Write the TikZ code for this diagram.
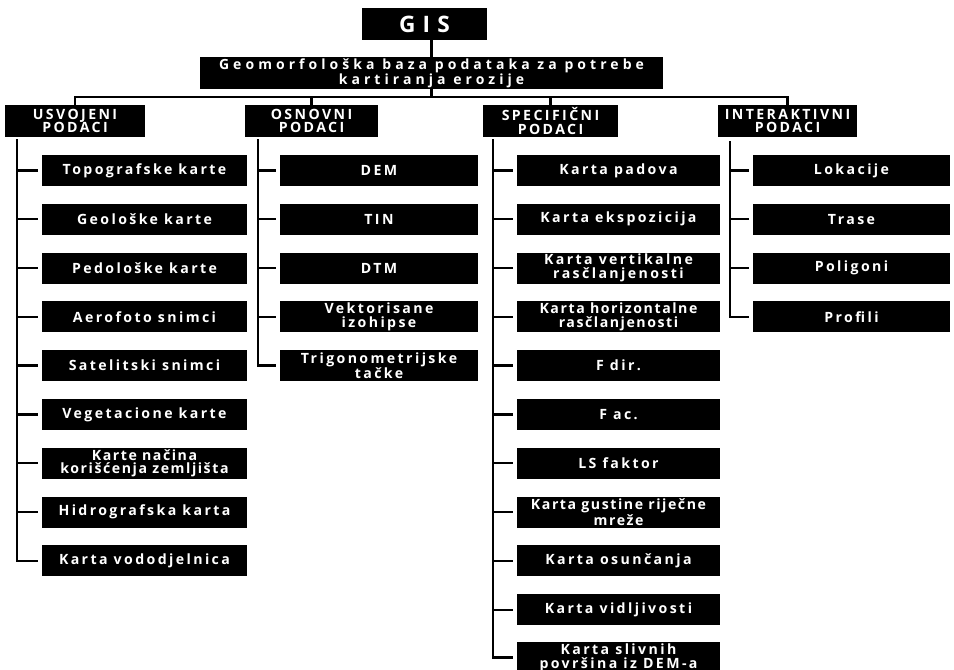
\documentclass[tikz,border=0pt]{standalone}
\usepackage{fontspec}
\setmainfont{Open Sans}
\newfontfamily\lblfont[LetterSpace=17]{Open Sans}
\newfontfamily\narrowfont[LetterSpace=11]{Open Sans}
\newfontfamily\mainfont[LetterSpace=29]{Open Sans}
\newfontfamily\gisfont[LetterSpace=32]{Open Sans}
\usetikzlibrary{calc}
\begin{document}
\begin{tikzpicture}[x=0.75pt,y=-0.75pt,
  box/.style={fill=black,text=white,inner sep=0pt,align=center,
    font=\lblfont\bfseries\fontsize{10.6}{10.4}\selectfont,minimum height=23.25pt},
  narrow/.style={font=\narrowfont\bfseries\fontsize{10.6}{10.4}\selectfont},
  cA/.style={minimum width=153.75pt},
  cB/.style={minimum width=148.5pt},
  cC/.style={minimum width=152.25pt},
  cD/.style={minimum width=147.75pt},
  hdr/.style={box,minimum height=24pt},
  conn/.style={line width=1.8pt,line cap=rect}]
\useasboundingbox (0,0) rectangle (954,670);

% top
\node[box,font=\gisfont\bfseries\fontsize{17}{18}\selectfont,minimum width=93.75pt,minimum height=24pt] (gis) at (424.5,24) {GIS};
\node[box,font=\mainfont\bfseries\fontsize{10.5}{9.6}\selectfont,minimum width=347.25pt,minimum height=24pt] (main) at (431.5,73) {Geomorfološka baza podataka za potrebe\\kartiranja erozije};

% headers
\node[hdr,minimum width=105pt] (h1) at (75,121) {USVOJENI\\PODACI};
\node[hdr,minimum width=99.75pt] (h2) at (311.5,121) {OSNOVNI\\PODACI};
\node[hdr,minimum width=101.25pt] (h3) at (550.5,121) {SPECIFIČNI\\PODACI};
\node[hdr,minimum width=104.25pt] (h4) at (787.5,121) {INTERAKTIVNI\\PODACI};

% column 1
\foreach \i/\t in {1/Topografske karte,2/Geološke karte,3/Pedološke karte,4/Aerofoto snimci,5/Satelitski snimci,6/Vegetacione karte,8/Hidrografska karta,9/Karta vododjelnica}
  \node[box,cA] (a\i) at (144.5,{170.5+48.8*(\i-1)}) {\t};
\node[box,cA,narrow] (a7) at (144.5,{170.5+48.8*6}) {Karte načina\\korišćenja zemljišta};
% column 2
\foreach \i/\t in {1/DEM,2/TIN,3/DTM,4/{Vektorisane\\izohipse},5/{Trigonometrijske\\tačke}}
  \node[box,cB] (b\i) at (379,{170.5+48.8*(\i-1)}) {\t};
% column 3
\foreach \i/\t in {1/Karta padova,2/Karta ekspozicija,3/{Karta vertikalne\\rasčlanjenosti},5/F dir.,6/F ac.,7/LS faktor,9/Karta osunčanja,10/Karta vidljivosti}
  \node[box,cC] (c\i) at (618.5,{170.5+48.8*(\i-1)}) {\t};
\node[box,cC,narrow] (c4) at (618.5,{170.5+48.8*3}) {Karta horizontalne\\rasčlanjenosti};
\node[box,cC,narrow] (c8) at (618.5,{170.5+48.8*7}) {Karta gustine riječne\\mreže};
\node[box,cC] (c11) at (618.5,657.5) {Karta slivnih\\površina iz DEM-a};
% column 4
\foreach \i/\t in {1/Lokacije,2/Trase,3/Poligoni,4/Profili}
  \node[box,cD] (d\i) at (851.5,{170.5+48.8*(\i-1)}) {\t};

% connectors top
\coordinate (bus) at (0,97);
\draw[conn] (main.north) -- (main.north |- gis.south);
\draw[conn] (main.south) -- (main.south |- bus);
\draw[conn] (h1.north) -- (h1.north |- bus) -- (h4.north |- bus) -- (h4.north);
\draw[conn] (h2.north) -- (h2.north |- bus);
\draw[conn] (h3.north) -- (h3.north |- bus);

% trunks
\coordinate (tA) at (17,140);
\coordinate (tB) at (258,140);
\coordinate (tC) at (493,140);
\coordinate (tD) at (730,142);
\draw[conn] (tA) |- ([xshift=-3.75pt]a9.west);
\foreach \i in {1,...,8} \draw[conn] (tA |- a\i.west) -- ([xshift=-3.75pt]a\i.west);
\draw[conn] (tB) |- ([xshift=-3.75pt]b5.west);
\foreach \i in {1,...,4} \draw[conn] (tB |- b\i.west) -- ([xshift=-3.75pt]b\i.west);
\draw[conn] (tC) |- ([xshift=-3.75pt]c11.west);
\foreach \i in {1,...,10} \draw[conn] (tC |- c\i.west) -- ([xshift=-3.75pt]c\i.west);
\draw[conn] (tD) |- ([xshift=-3.75pt]d4.west);
\foreach \i in {1,...,3} \draw[conn] (tD |- d\i.west) -- ([xshift=-3.75pt]d\i.west);
\end{tikzpicture}
\end{document}
